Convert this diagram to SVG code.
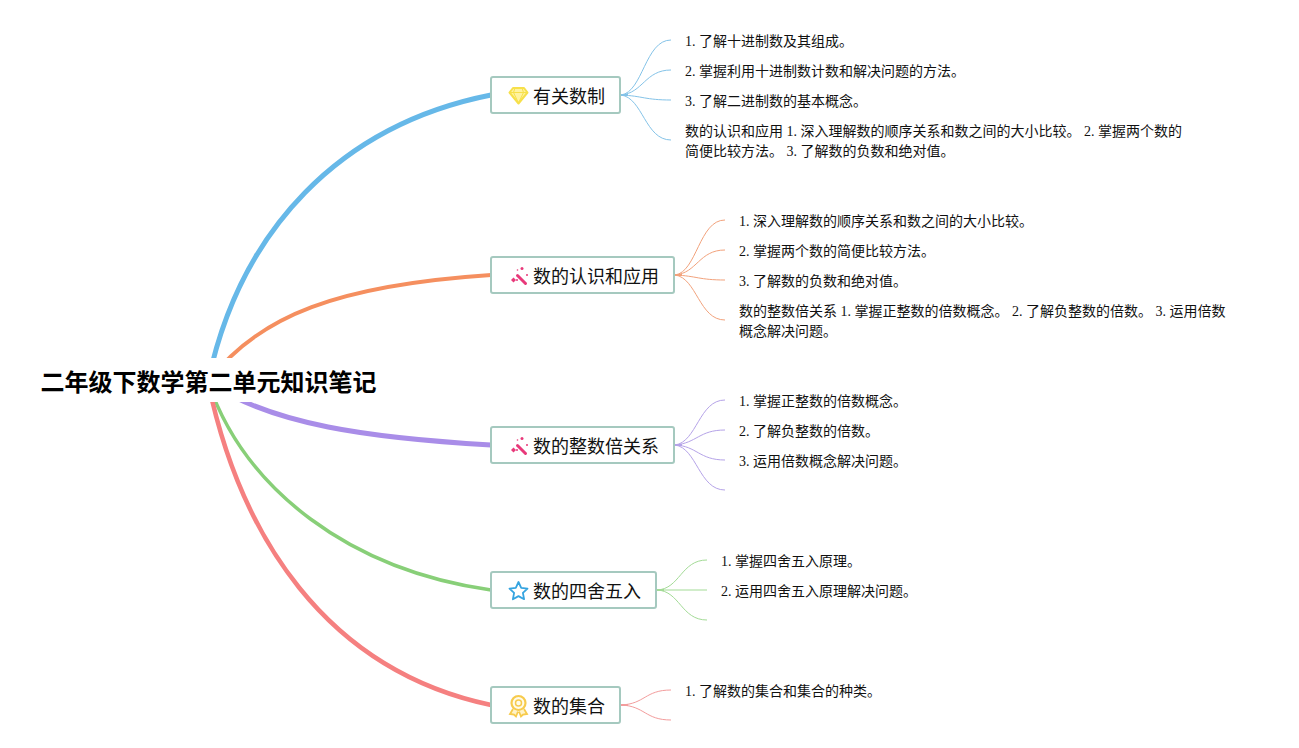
<svg xmlns="http://www.w3.org/2000/svg" width="1299" height="748" viewBox="0 0 1299 748">
<style>
text{font-family:"Liberation Serif","Noto Sans CJK SC",serif;fill:#111;opacity:.999}
.l{font-size:14px}
.t{font-size:18px}
.r{font-size:24px;font-weight:700;font-family:"Liberation Sans","Noto Sans CJK SC",sans-serif;fill:#000}
.b{fill:#fff;stroke:#a5c9bf;stroke-width:2}
.m{fill:none}
.s{fill:none;stroke-width:1}
.h{fill:none;stroke-width:2}
</style>
<rect width="1299" height="748" fill="#fff"/>
<g id="connectors">
<path class="m" stroke-width="5" stroke="#66b8e8" d="M208 382C240 230 340 125 491 95"/>
<path class="m" stroke-width="3.800" stroke="#f58f5f" d="M208 382C258 315 340 285 491 275"/>
<path class="m" stroke-width="5" stroke="#a98de8" d="M208 382C272 425 370 438 491 445"/>
<path class="m" stroke-width="3.500" stroke="#88cf78" d="M208 382C245 490 350 570 491 590"/>
<path class="m" stroke-width="4.500" stroke="#f58080" d="M208 382C240 535 325 670 491 705"/>
<rect x="30" y="358" width="356" height="44" fill="#fff"/>
<g stroke="#84c3e8">
<path class="s" d="M621 95C643 92 645 40 671 40"/><path class="s" d="M621 95C643 93 645 70 671 70"/><path class="s" d="M621 95C643 96 645 100 671 100"/><path class="s" d="M621 95C643 98 645 140 671 140"/>
<path class="h" d="M621 95h7"/></g>
<g stroke="#f2a27c">
<path class="s" d="M675 275C697 272 699 220 725 220"/><path class="s" d="M675 275C697 273 699 250 725 250"/><path class="s" d="M675 275C697 276 699 280 725 280"/><path class="s" d="M675 275C697 278 699 320 725 320"/>
<path class="h" d="M675 275h7"/></g>
<g stroke="#b5a3e8">
<path class="s" d="M675 445C697 442 699 400 725 400"/><path class="s" d="M675 445C697 443 699 430 725 430"/><path class="s" d="M675 445C697 446 699 460 725 460"/><path class="s" d="M675 445C697 448 699 490 725 490"/>
<path class="h" d="M675 445h7"/></g>
<g stroke="#a3db96">
<path class="s" d="M657 590C680 589 681 560 707 560"/><path class="s" d="M657 590H707"/><path class="s" d="M657 590C680 591 681 620 707 620"/>
<path class="h" d="M657 590h7"/></g>
<g stroke="#f39c9c">
<path class="s" d="M621 705C645 704 645 690 671 690"/><path class="s" d="M621 705C645 706 645 720 671 720"/>
<path class="h" d="M621 705h7"/></g>
</g>
<g id="root"><text class="r" x="40.500" y="390.500">二年级下数学第二单元知识笔记</text></g>
<g id="topic1"><rect class="b" x="491" y="77" width="129" height="36" rx="2"/>
<path d="M513 88h11l3.500 4.500-9 11-9-11z" fill="#fff3a0" stroke="#f7e04a" stroke-width="2" stroke-linejoin="round"/><path d="M510 92.500h17M515 88l-1.500 4.500 5 10.500 5-10.500-1.500-4.500" fill="none" stroke="#f7e04a" stroke-width="1"/>
<text class="t" x="533" y="102.500">有关数制</text></g>
<g id="topic2"><rect class="b" x="491" y="257" width="183" height="36" rx="2"/>
<path d="M517.500 275.500l8 8" stroke="#e8397a" stroke-width="3" stroke-linecap="round"/><circle cx="522" cy="268.500" r="1.500" fill="#e8397a"/><circle cx="527" cy="275" r="1" fill="#e8397a"/><circle cx="517.500" cy="270" r=".8" fill="#e8397a"/><path d="M511 280l2.500-2.500 2.500 2.500-2.500 2.500z" fill="#e8397a"/><circle cx="517" cy="280" r="1" fill="#e8397a"/>
<text class="t" x="533" y="282.500">数的认识和应用</text></g>
<g id="topic3"><rect class="b" x="491" y="427" width="183" height="36" rx="2"/>
<path d="M517.500 445.500l8 8" stroke="#e8397a" stroke-width="3" stroke-linecap="round"/><circle cx="522" cy="438.500" r="1.500" fill="#e8397a"/><circle cx="527" cy="445" r="1" fill="#e8397a"/><circle cx="517.500" cy="440" r=".8" fill="#e8397a"/><path d="M511 450l2.500-2.500 2.500 2.500-2.500 2.500z" fill="#e8397a"/><circle cx="517" cy="450" r="1" fill="#e8397a"/>
<text class="t" x="533" y="452.500">数的整数倍关系</text></g>
<g id="topic4"><rect class="b" x="491" y="572" width="165" height="36" rx="2"/>
<path d="M518.500 582l2.700 5.800 6.300.8-4.600 4.300 1.200 6.300-5.600-3.100-5.600 3.100 1.200-6.300-4.600-4.300 6.300-.8z" fill="#fff" stroke="#35a4e0" stroke-width="1.800" stroke-linejoin="round"/>
<text class="t" x="533" y="597.500">数的四舍五入</text></g>
<g id="topic5"><rect class="b" x="491" y="687" width="129" height="36" rx="2"/>
<circle cx="518.500" cy="703" r="7" fill="#fffbe8" stroke="#f7cb4d" stroke-width="2.200"/><circle cx="518.500" cy="703" r="3" fill="none" stroke="#f7cb4d" stroke-width="1.500"/><path d="M513 709l-3 5 4 .5 2 2 2-5M524 709l3 5-4 .5-2 2-2-5" fill="#fff3c8" stroke="#f7cb4d" stroke-width="1.800"/>
<text class="t" x="533" y="712.500">数的集合</text></g>
<g id="leaves">
<text class="l" x="685" y="46">1. 了解十进制数及其组成。</text>
<text class="l" x="685" y="76">2. 掌握利用十进制数计数和解决问题的方法。</text>
<text class="l" x="685" y="106">3. 了解二进制数的基本概念。</text>
<text class="l" x="685" y="136">数的认识和应用 1. 深入理解数的顺序关系和数之间的大小比较。 2. 掌握两个数的</text>
<text class="l" x="685" y="156">简便比较方法。 3. 了解数的负数和绝对值。</text>
<text class="l" x="739" y="226">1. 深入理解数的顺序关系和数之间的大小比较。</text>
<text class="l" x="739" y="256">2. 掌握两个数的简便比较方法。</text>
<text class="l" x="739" y="286">3. 了解数的负数和绝对值。</text>
<text class="l" x="739" y="316">数的整数倍关系 1. 掌握正整数的倍数概念。 2. 了解负整数的倍数。 3. 运用倍数</text>
<text class="l" x="739" y="336">概念解决问题。</text>
<text class="l" x="739" y="406">1. 掌握正整数的倍数概念。</text>
<text class="l" x="739" y="436">2. 了解负整数的倍数。</text>
<text class="l" x="739" y="466">3. 运用倍数概念解决问题。</text>
<text class="l" x="721" y="566">1. 掌握四舍五入原理。</text>
<text class="l" x="721" y="596">2. 运用四舍五入原理解决问题。</text>
<text class="l" x="685" y="696">1. 了解数的集合和集合的种类。</text>
</g>
</svg>
